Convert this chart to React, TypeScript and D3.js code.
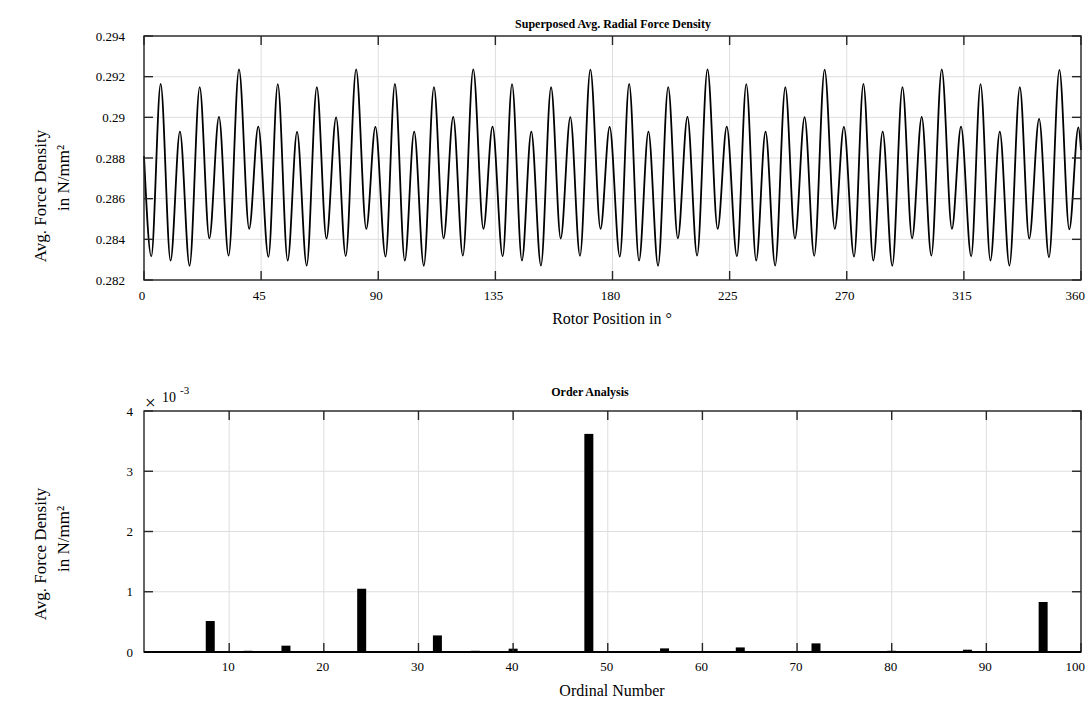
import React, { useEffect, useRef } from 'react';
import * as d3 from 'd3';

// top plot: extrema of the superposed signal
const rotorAngle = [
  0, 2.8, 6.4, 10.2, 13.8, 17.5, 21.4, 25.1, 28.8, 32.5, 36.5, 40.4, 43.9,
  47.8, 51.4, 55.2, 58.8, 62.5, 66.4, 70.1, 73.8, 77.5, 81.5, 85.4, 88.9,
  92.8, 96.4, 100.2, 103.8, 107.5, 111.4, 115.1, 118.8, 122.5, 126.5, 130.4, 133.9,
  137.8, 141.4, 145.2, 148.8, 152.5, 156.4, 160.1, 163.8, 167.5, 171.5, 175.4, 178.9,
  182.8, 186.4, 190.2, 193.8, 197.5, 201.4, 205.1, 208.8, 212.5, 216.5, 220.4, 223.9,
  227.8, 231.4, 235.2, 238.8, 242.5, 246.4, 250.1, 253.8, 257.5, 261.5, 265.4, 268.9,
  272.8, 276.4, 280.2, 283.8, 287.5, 291.4, 295.1, 298.8, 302.5, 306.5, 310.4, 313.9,
  317.8, 321.4, 325.2, 328.8, 332.5, 336.5, 340.1, 343.9, 347.7, 351.7, 355.5, 359.0, 360,
];
const forceDensity = [
  0.2881, 0.28316, 0.29164, 0.28295, 0.2893, 0.2827, 0.29149, 0.28405, 0.29002, 0.2832, 0.29236, 0.28452, 0.28954,
  0.28314, 0.29163, 0.28296, 0.28928, 0.28271, 0.29148, 0.28404, 0.29, 0.28318, 0.29236, 0.28451, 0.28953,
  0.28315, 0.29164, 0.28295, 0.2893, 0.2827, 0.29149, 0.28405, 0.29002, 0.2832, 0.29236, 0.28452, 0.28954,
  0.28316, 0.29163, 0.28296, 0.28929, 0.28271, 0.29148, 0.28404, 0.29001, 0.28319, 0.29235, 0.28451, 0.28953,
  0.28315, 0.29164, 0.28295, 0.2893, 0.2827, 0.29149, 0.28405, 0.29002, 0.2832, 0.29236, 0.28452, 0.28954,
  0.28316, 0.29163, 0.28296, 0.28929, 0.28271, 0.29148, 0.28404, 0.29001, 0.28319, 0.29235, 0.28451, 0.28953,
  0.28315, 0.29164, 0.28295, 0.2893, 0.2827, 0.29149, 0.28405, 0.29002, 0.2832, 0.29236, 0.28452, 0.28954,
  0.28316, 0.29163, 0.28296, 0.28929, 0.28271, 0.29148, 0.28404, 0.28992, 0.28312, 0.29233, 0.28449, 0.28951, 0.2884,
];
const angleTicks = [0, 45, 90, 135, 180, 225, 270, 315, 360];
const densityTicks = [0.282, 0.284, 0.286, 0.288, 0.29, 0.292, 0.294];
const densityLabels = ['0.282', '0.284', '0.286', '0.288', '0.29', '0.292', '0.294'];

// bottom plot: order spectrum (N/mm², x 1e-3)
const orders = [8, 12, 16, 24, 28, 32, 36, 40, 44, 48, 56, 60, 64, 72, 76, 80, 84, 88, 96];
const orderAmplitude = [0.514, 0.02, 0.105, 1.05, 0.01, 0.275, 0.02, 0.055, 0.005, 3.62, 0.06, 0.005, 0.076, 0.143, 0.008, 0.02, 0.004, 0.038, 0.83];
const orderTicks = [10, 20, 30, 40, 50, 60, 70, 80, 90, 100];
const amplitudeTicks = [0, 1, 2, 3, 4];

const FONT = '"Liberation Serif", "Times New Roman", Times, serif';
const AXIS = '#262626';
const GRID = '#dedede';

function txt(g: any, x: number, y: number, s: string, size: number, anchor = 'start') {
  return g.append('text')
    .attr('x', x)
    .attr('y', y)
    .attr('text-anchor', anchor)
    .attr('font-family', FONT)
    .attr('font-size', size)
    .attr('fill', '#000')
    .text(s);
}

function drawFrame(g: any, x: any, y: any, xTicks: number[], yTicks: number[]) {
  const [x0, x1] = x.range();
  const [y0, y1] = y.range();
  const tl = 9;

  g.append('rect')
    .attr('x', x0).attr('y', y1)
    .attr('width', x1 - x0).attr('height', y0 - y1)
    .attr('fill', 'none')
    .attr('stroke', AXIS)
    .attr('stroke-width', 1.4);

  xTicks.forEach((t) => {
    const px = x(t);
    g.append('line').attr('x1', px).attr('x2', px).attr('y1', y0).attr('y2', y0 - tl)
      .attr('stroke', AXIS).attr('stroke-width', 1.4);
    g.append('line').attr('x1', px).attr('x2', px).attr('y1', y1).attr('y2', y1 + tl)
      .attr('stroke', AXIS).attr('stroke-width', 1.4);
  });
  yTicks.forEach((t) => {
    const py = y(t);
    g.append('line').attr('x1', x0).attr('x2', x0 + tl).attr('y1', py).attr('y2', py)
      .attr('stroke', AXIS).attr('stroke-width', 1.4);
    g.append('line').attr('x1', x1).attr('x2', x1 - tl).attr('y1', py).attr('y2', py)
      .attr('stroke', AXIS).attr('stroke-width', 1.4);
  });
}

function drawGrid(g: any, x: any, y: any, xTicks: number[], yTicks: number[]) {
  const [x0, x1] = x.range();
  const [y0, y1] = y.range();
  xTicks.forEach((t) => {
    g.append('line').attr('x1', x(t)).attr('x2', x(t)).attr('y1', y0).attr('y2', y1)
      .attr('stroke', GRID).attr('stroke-width', 1);
  });
  yTicks.forEach((t) => {
    g.append('line').attr('x1', x0).attr('x2', x1).attr('y1', y(t)).attr('y2', y(t))
      .attr('stroke', GRID).attr('stroke-width', 1);
  });
}

function yLabel(svg: any, x1: number, x2: number, c1: number, c2: number) {
  txt(svg, 0, 0, 'Avg. Force Density', 17, 'middle')
    .attr('transform', `translate(${x1},${c1}) rotate(-90)`);
  txt(svg, 0, 0, 'in N/mm²', 17, 'middle')
    .attr('transform', `translate(${x2},${c2}) rotate(-90)`);
}

export default function App() {
  const ref = useRef<SVGSVGElement>(null);

  useEffect(() => {
    const svg = d3.select(ref.current);
    svg.selectAll('*').remove();

    // ---------- top: superposed force density ----------
    const xTop = d3.scaleLinear().domain([0, 360]).range([144, 1081]);
    const yTop = d3.scaleLinear().domain([0.282, 0.294]).range([280, 36]);
    const top = svg.append('g');

    drawGrid(top, xTop, yTop, angleTicks, densityTicks);

    const pts = rotorAngle.map((a, i) => [a, forceDensity[i]] as [number, number]);
    const line = d3.line<[number, number]>()
      .x((d) => xTop(d[0]))
      .y((d) => yTop(d[1]))
      .curve(d3.curveMonotoneX);
    top.append('path')
      .datum(pts)
      .attr('d', line)
      .attr('fill', 'none')
      .attr('stroke', '#000')
      .attr('stroke-width', 1.8);

    drawFrame(top, xTop, yTop, angleTicks, densityTicks);

    angleTicks.forEach((t, i) => {
      const last = i === angleTicks.length - 1;
      txt(top, last ? 1085 : xTop(t) - 2, 300, String(t), 13, last ? 'end' : 'middle');
    });
    densityTicks.forEach((t, i) => {
      txt(top, 125, yTop(t), densityLabels[i], 13, 'end').attr('dy', '0.35em');
    });

    txt(top, 613, 28, 'Superposed Avg. Radial Force Density', 12, 'middle')
      .attr('font-weight', 'bold');
    txt(top, 612, 324, 'Rotor Position in °', 16, 'middle');
    yLabel(svg, 46, 69, 196, 178);

    // ---------- bottom: order analysis ----------
    const xBot = d3.scaleLinear().domain([1, 100]).range([144, 1081]);
    const yBot = d3.scaleLinear().domain([0, 4]).range([652, 411]);
    const bot = svg.append('g');

    drawGrid(bot, xBot, yBot, orderTicks, amplitudeTicks);

    const bw = xBot(1.95) - xBot(1);
    bot.selectAll('rect.bar')
      .data(orders)
      .enter()
      .append('rect')
      .attr('class', 'bar')
      .attr('x', (d: number) => xBot(d) - bw / 2)
      .attr('y', (_d: number, i: number) => yBot(orderAmplitude[i]))
      .attr('width', bw)
      .attr('height', (_d: number, i: number) => yBot(0) - yBot(orderAmplitude[i]))
      .attr('fill', '#000');

    drawFrame(bot, xBot, yBot, orderTicks, amplitudeTicks);
    bot.append('line')
      .attr('x1', 144).attr('x2', 1081).attr('y1', yBot(0)).attr('y2', yBot(0))
      .attr('stroke', '#000').attr('stroke-width', 2);

    orderTicks.forEach((t, i) => {
      const last = i === orderTicks.length - 1;
      txt(bot, last ? 1085 : xBot(t) - 1, 671, String(t), 13, last ? 'end' : 'middle');
    });
    amplitudeTicks.forEach((t) => {
      txt(bot, 133, yBot(t), String(t), 13, 'end').attr('dy', '0.35em');
    });

    // exponent label
    txt(bot, 145, 409, '×', 19);
    txt(bot, 162, 402, '10', 14);
    txt(bot, 180, 394, '-3', 11);

    txt(bot, 590, 396, 'Order Analysis', 12, 'middle').attr('font-weight', 'bold');
    txt(bot, 612, 696, 'Ordinal Number', 16, 'middle');
    yLabel(svg, 46, 69, 554, 539);
  }, []);

  return (
    <svg
      ref={ref}
      width={1087}
      height={704}
      style={{ position: 'absolute', left: 0, top: 0, background: '#fff' }}
    />
  );
}
